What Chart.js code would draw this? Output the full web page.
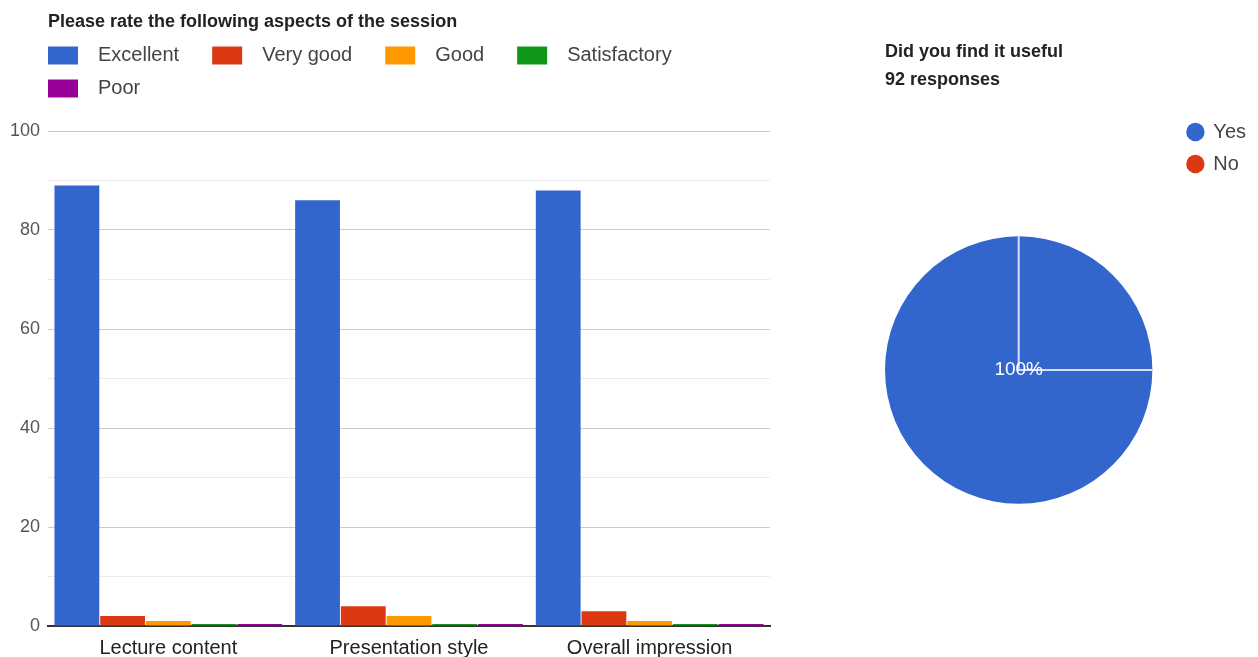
<!DOCTYPE html>
<html>
<head>
<meta charset="utf-8">
<script src="https://cdn.jsdelivr.net/npm/chart.js@4.4.1/dist/chart.umd.min.js"></script>
<style>
  html, body { margin: 0; padding: 0; background: #fff; overflow: hidden; }
  #barBox { position: absolute; left: 0; top: 0; width: 780px; height: 670px; }
  #pieBox { position: absolute; left: 860px; top: 0; width: 398px; height: 657px; }
</style>
</head>
<body>
<div id="barBox"><canvas id="bars"></canvas></div>
<div id="pieBox"><canvas id="pie"></canvas></div>
<script>
// rating question
var aspects = ['Lecture content', 'Presentation style', 'Overall impression'];
var ratings = ['Excellent', 'Very good', 'Good', 'Satisfactory', 'Poor'];
var excellent = [89, 86, 88];
var veryGood = [2, 4, 3];
var good = [1, 2, 1];
var satisfactory = [0, 0, 0];
var poor = [0, 0, 0];
var yTicks = [0, 20, 40, 60, 80, 100];
var ratingColors = ['#3366cc', '#dc3912', '#ff9900', '#109618', '#990099'];

// yes / no question
var usefulLabels = ['Yes', 'No'];
var usefulCounts = [92, 0];
var usefulColors = ['#3366cc', '#dc3912'];

Chart.defaults.font.family = "'Liberation Sans', Arial, sans-serif";
Chart.defaults.color = '#444';
Chart.defaults.animation = false;

var series = [excellent, veryGood, good, satisfactory, poor];

new Chart(document.getElementById('bars'), {
    type: 'bar',
    data: {
        labels: aspects,
        datasets: series.map(function (vals, i) {
            return {
                label: ratings[i],
                data: vals,
                backgroundColor: ratingColors[i],
                borderWidth: 0,
                minBarLength: 2
            };
        })
    },
    options: {
        responsive: true,
        maintainAspectRatio: false,
        events: [],
        layout: { padding: { left: 35, right: 10, top: 0, bottom: 0 } },
        datasets: { bar: { categoryPercentage: 0.95, barPercentage: 0.98 } },
        plugins: {
            title: {
                display: true,
                fullSize: false,
                align: 'start',
                text: 'Please rate the following aspects of the session',
                color: '#222',
                font: { size: 18, weight: 'bold' },
                padding: { top: 11, bottom: 0 }
            },
            // empty spacer between legend and plot
            subtitle: {
                display: true,
                text: '',
                weight: 900,
                fullSize: false,
                font: { size: 10, lineHeight: 1 },
                padding: { top: 0, bottom: 12.4 }
            },
            legend: {
                align: 'start',
                labels: {
                    boxWidth: 30,
                    boxHeight: 18,
                    padding: 13,
                    color: '#444',
                    font: { size: 20 },
                    generateLabels: function (chart) {
                        return Chart.defaults.plugins.legend.labels.generateLabels(chart).map(function (item) {
                            item.text = '\u2002' + item.text + '\u2002\u2002';
                            return item;
                        });
                    }
                }
            },
            tooltip: { enabled: false }
        },
        scales: {
            x: {
                grid: { display: false, drawTicks: false },
                border: { color: '#333', width: 2 },
                ticks: { color: '#222', font: { size: 20 }, padding: 10 }
            },
            y: {
                min: 0,
                max: 100,
                border: { display: false },
                grid: {
                    drawTicks: false,
                    color: function (c) {
                        return yTicks.indexOf(c.tick.value) >= 0 ? '#cccccc' : '#ebebeb';
                    }
                },
                // labels sit left of the narrow axis box, right aligned 8px from the grid
                ticks: {
                    stepSize: 10,
                    mirror: true,
                    crossAlign: 'far',
                    padding: -38,
                    color: '#555',
                    font: { size: 18 },
                    callback: function (v) { return yTicks.indexOf(v) >= 0 ? v : ''; }
                },
                afterFit: function (scale) { scale.width = 13; }
            }
        }
    }
});

// percentage text and slice edges on the pie
var pieLabels = {
    id: 'pieLabels',
    afterDatasetsDraw: function (chart) {
        var ctx = chart.ctx;
        var values = chart.data.datasets[0].data;
        var total = values.reduce(function (a, b) { return a + b; }, 0);
        chart.getDatasetMeta(0).data.forEach(function (arc, i) {
            if (!values[i]) return;
            var share = values[i] / total;
            var pos = share === 1 ? { x: arc.x, y: arc.y } : arc.getCenterPoint();
            ctx.save();
            ctx.fillStyle = '#fff';
            ctx.font = "19px 'Liberation Sans', Arial, sans-serif";
            ctx.textAlign = 'center';
            ctx.textBaseline = 'middle';
            ctx.fillText(Math.round(share * 100) + '%', pos.x, pos.y);
            if (share === 1) {
                ctx.strokeStyle = 'rgba(255,255,255,0.8)';
                ctx.lineWidth = 2;
                ctx.beginPath();
                ctx.moveTo(arc.x, arc.y - arc.outerRadius);
                ctx.lineTo(arc.x, arc.y);
                ctx.lineTo(arc.x + arc.outerRadius, arc.y);
                ctx.stroke();
            }
            ctx.restore();
        });
    }
};

new Chart(document.getElementById('pie'), {
    type: 'pie',
    data: {
        labels: usefulLabels,
        datasets: [{
            data: usefulCounts,
            backgroundColor: usefulColors,
            borderWidth: 0
        }]
    },
    options: {
        responsive: true,
        maintainAspectRatio: false,
        events: [],
        layout: { padding: { left: 25, right: 2, top: 0, bottom: 27 } },
        plugins: {
            title: {
                display: true,
                align: 'start',
                text: ['Did you find it useful', '92 responses'],
                color: '#222',
                font: { size: 18, weight: 'bold', lineHeight: 1.556 },
                padding: { top: 38, bottom: 16 }
            },
            // empty spacer between pie and legend
            subtitle: {
                display: true,
                text: '',
                position: 'right',
                weight: 900,
                fullSize: false,
                font: { size: 10, lineHeight: 1 },
                padding: { top: 0, bottom: 13 }
            },
            legend: {
                position: 'right',
                align: 'start',
                fullSize: false,
                labels: {
                    usePointStyle: true,
                    pointStyle: 'circle',
                    boxWidth: 16,
                    boxHeight: 13,
                    padding: 12,
                    color: '#444',
                    font: { size: 20 }
                }
            },
            tooltip: { enabled: false }
        }
    },
    plugins: [pieLabels]
});
</script>
</body>
</html>
